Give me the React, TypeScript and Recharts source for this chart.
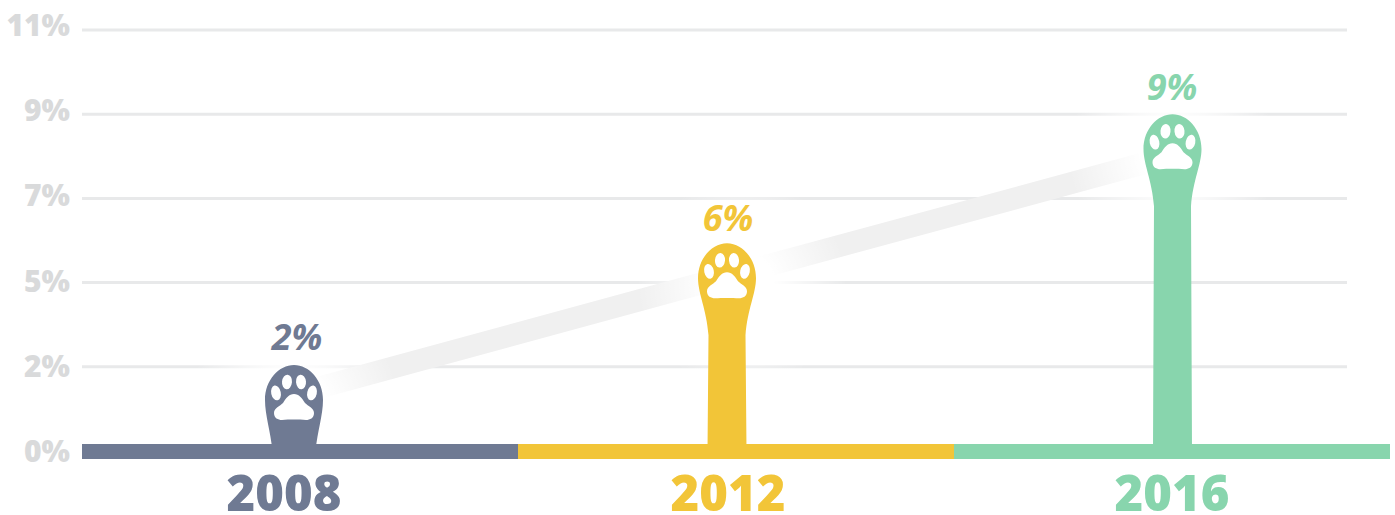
import { Bar, CartesianGrid, ComposedChart, LabelList, Line, XAxis, YAxis } from "recharts";

const YEARS = ["2008", "2012", "2016"];
const RATE = [2.3, 5.55, 9];
const TREND = [1.44, 4.67, 7.89];
const BASELINE = [0, 0, 0];
const Y_TICKS = [0, 2.25, 4.5, 6.75, 9, 11.25];
const COLORS = ["#6f7a93", "#f2c538", "#88d5ad"];

// the paws do not sit quite in the middle of their year in the original
const PAW_NUDGE = [10, -1, 0.5];
const LABEL_NUDGE = [13, 0, 0];
const LABEL_LIFT = [15, 12, 14];
const GLOW_NUDGE = [0, 15, 0];

const data = YEARS.map((year, i) => ({
  year,
  rate: RATE[i],
  trend: TREND[i],
  base: BASELINE[i],
}));

const FONT = "'Open Sans', sans-serif";

const Paw = (props: any) => {
  const { x, y, width, height, index } = props;
  const cx = x + width / 2 + PAW_NUDGE[index];
  const h = height;
  const neck = Math.min(92, h);
  const end = h < 100 ? 21.5 : 18.5;
  const foot = h < 100 ? 21.5 : 19.5;
  const fill = COLORS[index];
  return (
    <g transform={`translate(${cx},${y})`}>
      <circle cx={GLOW_NUDGE[index]} cy={40} r={105} fill="url(#pawGlow)" />
      <path
        fill={fill}
        d={`M-29,35 C-29,15 -15,0 0,0 C15,0 29,15 29,35 C29,50 ${end + 2},66 ${end},${neck} L${foot},${h} L${-foot},${h} L${-end},${neck} C${-end - 2},66 -29,50 -29,35 Z`}
      />
      <ellipse cx={-7} cy={17} rx={5} ry={7.3} fill="#fff" transform="rotate(5 -7 17)" />
      <ellipse cx={7} cy={17} rx={5} ry={7.3} fill="#fff" transform="rotate(-5 7 17)" />
      <ellipse cx={-18} cy={28} rx={4.8} ry={7.5} fill="#fff" transform="rotate(-12 -18 28)" />
      <ellipse cx={18} cy={28} rx={4.8} ry={7.5} fill="#fff" transform="rotate(12 18 28)" />
      <path
        fill="#fff"
        d="M-20,48 C-20,43 -14,41 -11,38 C-8,33 -5,29 0,29 C5,29 8,33 11,38 C14,41 20,43 20,48 C20,53 16,55 12,55 C5,54.5 -5,54.5 -12,55 C-16,55 -20,53 -20,48 Z"
      />
    </g>
  );
};

const BaseStrip = (props: any) => {
  const { x, y, width, index } = props;
  return <rect x={x} y={y - 7} width={width} height={15} fill={COLORS[index]} />;
};

const RateLabel = (props: any) => {
  const { x, y, width, value, index } = props;
  return (
    <text
      x={x + width / 2 + LABEL_NUDGE[index]}
      y={y - LABEL_LIFT[index]}
      textAnchor="middle"
      fill={COLORS[index]}
      fontFamily={FONT}
      fontSize={36}
      fontWeight={700}
      fontStyle="italic"
    >
      {Math.round(value)}%
    </text>
  );
};

const YearTick = (props: any) => {
  const { x, y, payload, index } = props;
  return (
    <text x={x} y={y + 52} textAnchor="middle" fill={COLORS[index]} fontFamily={FONT} fontSize={49} fontWeight={800}>
      {payload.value}
    </text>
  );
};

const PercentTick = (props: any) => {
  const { y, payload } = props;
  // the labels are spread a touch wider than the grid lines
  const textY = y + 6 + ((y - 30) * 5) / 421;
  return (
    <text x={70} y={textY} textAnchor="end" fill="#d9dadb" fontFamily={FONT} fontSize={30} fontWeight={800}>
      {Math.round(payload.value)}%
    </text>
  );
};

const GridLine = (props: any) => (
  <line x1={props.x1} x2={props.x2 - 43} y1={props.y1} y2={props.y2} stroke="#e8e9ea" strokeWidth={3} />
);

export default function App() {
  return (
    <div style={{ position: "absolute", left: 0, top: 0 }}>
      <ComposedChart
        width={1395}
        height={515}
        data={data}
        margin={{ top: 30, right: 5, bottom: 0, left: 0 }}
        barCategoryGap={0}
      >
        <defs>
          <radialGradient id="pawGlow">
            <stop offset="30%" stopColor="#fff" stopOpacity={1} />
            <stop offset="100%" stopColor="#fff" stopOpacity={0} />
          </radialGradient>
        </defs>
        <CartesianGrid vertical={false} horizontal={GridLine} />
        <XAxis
          xAxisId="main"
          dataKey="year"
          height={64}
          padding={{ left: -20, right: -4 }}
          axisLine={false}
          tickLine={false}
          tick={YearTick}
          interval={0}
        />
        <XAxis xAxisId="strip" dataKey="year" hide />
        <YAxis
          width={82}
          domain={[0, 11.25]}
          ticks={Y_TICKS}
          interval={0}
          axisLine={false}
          tickLine={false}
          tick={PercentTick}
        />
        <Line
          xAxisId="main"
          dataKey="trend"
          stroke="#f0f0f0"
          strokeWidth={22}
          strokeLinecap="butt"
          dot={false}
          activeDot={false}
          isAnimationActive={false}
          zIndex={100}
        />
        <Bar xAxisId="main" dataKey="rate" shape={Paw} isAnimationActive={false}>
          <LabelList dataKey="rate" content={RateLabel} />
        </Bar>
        <Bar xAxisId="strip" dataKey="base" shape={BaseStrip} isAnimationActive={false} />
      </ComposedChart>
    </div>
  );
}
